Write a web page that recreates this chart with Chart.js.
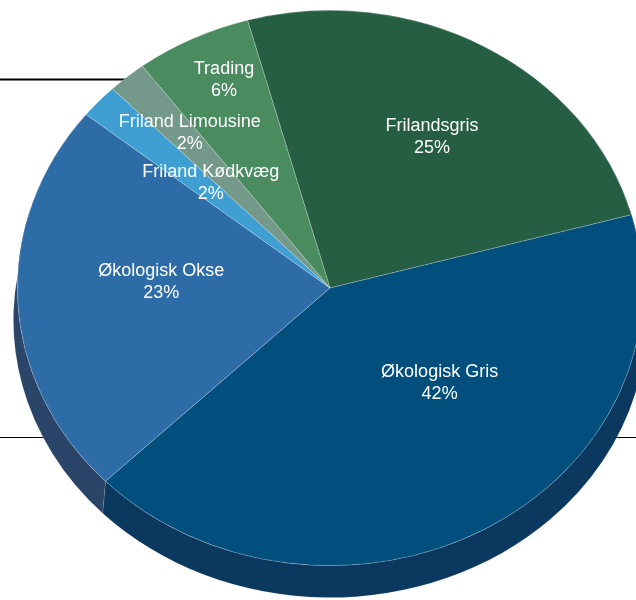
<!DOCTYPE html>
<html>
<head>
<meta charset="utf-8">
<script src="https://cdn.jsdelivr.net/npm/chart.js@4.4.1/dist/chart.umd.min.js"></script>
<style>
  html, body { margin: 0; padding: 0; background: #fff; width: 636px; height: 600px; overflow: hidden; }
  #wrap { position: absolute; left: 0; top: -25px; width: 660px; height: 626px; }
</style>
</head>
<body>
<div id="wrap"><canvas id="pie" width="660" height="626"></canvas></div>
<script>
const categories = ["Frilandsgris", "Økologisk Gris", "Økologisk Okse", "Friland Kødkvæg", "Friland Limousine", "Trading"];
const shares = [25, 42, 23, 2, 2, 6];

const topColors = ["#255e42", "#024e7c", "#2e6ca7", "#3f9fd3", "#74998a", "#4a8b60"];
const sideColors = ["#183f2c", "#0b385f", "#2a4568", "#2a6a8e", "#4e665c", "#315c40"];

// where each label sits: fraction of radius, and a small angle nudge (degrees)
const labelPlace = [
  { f: 0.634, da: 1.3 },
  { f: 0.49, da: -16 },
  { f: 0.54, da: 5 },
  { f: 0.537, da: 2.4 },
  { f: 0.716, da: 1.7 },
  { f: 0.821, da: 1.7 }
];

const TILT = 0.888;   // vertical squash of the top face
const DEPTH = 32;     // thickness of the pie edge
const FLARE = 4;      // bottom rim slightly wider (perspective)
const SHIFT = 25;     // canvas sits 25px above the page

const tiltPlugin = {
  id: "tilt",
  beforeDraw(chart) {
    const ctx = chart.ctx;
    ctx.save();
    ctx.strokeStyle = "#000";
    ctx.lineWidth = 2;
    ctx.beginPath();
    ctx.moveTo(0, 79.5 + SHIFT);
    ctx.lineTo(330, 79.5 + SHIFT);
    ctx.stroke();
    ctx.lineWidth = 1;
    ctx.beginPath();
    ctx.moveTo(0, 437.5 + SHIFT);
    ctx.lineTo(chart.width, 437.5 + SHIFT);
    ctx.stroke();
    ctx.restore();
  },
  beforeDatasetsDraw(chart) {
    const ctx = chart.ctx;
    const arcs = chart.getDatasetMeta(0).data;
    const { x: cx, y: cy, outerRadius: r } = arcs[0];

    // side wall of the front half
    arcs.forEach((a, i) => {
      const s = Math.max(a.startAngle, -0.3);
      const e = Math.min(a.endAngle, Math.PI + 0.3);
      if (e <= s) return;
      ctx.beginPath();
      ctx.ellipse(cx, cy, r, r * TILT, 0, s, e);
      ctx.ellipse(cx, cy + DEPTH, r + FLARE, r * TILT, 0, e, s, true);
      ctx.closePath();
      ctx.fillStyle = sideColors[i];
      ctx.fill();
      ctx.strokeStyle = "rgba(255,255,255,0.18)";
      ctx.lineWidth = 0.6;
      ctx.stroke();
    });

    ctx.save();
    ctx.translate(0, cy);
    ctx.scale(1, TILT);
    ctx.translate(0, -cy);
  },
  afterDatasetsDraw(chart) {
    const ctx = chart.ctx;
    ctx.restore();

    const arcs = chart.getDatasetMeta(0).data;
    ctx.save();
    ctx.fillStyle = "#fff";
    ctx.font = '18px "Liberation Sans", Arial, sans-serif';
    ctx.textAlign = "center";
    ctx.textBaseline = "middle";
    arcs.forEach((a, i) => {
      const mid = (a.startAngle + a.endAngle) / 2 + labelPlace[i].da * Math.PI / 180;
      const d = a.outerRadius * labelPlace[i].f;
      const x = a.x + d * Math.cos(mid);
      const y = a.y + d * TILT * Math.sin(mid);
      ctx.fillText(categories[i], x, y - 11);
      ctx.fillText(shares[i] + "%", x, y + 11);
    });
    ctx.restore();
  }
};

new Chart(document.getElementById("pie"), {
  type: "pie",
  data: {
    labels: categories,
    datasets: [{
      data: shares,
      backgroundColor: topColors,
      borderColor: "rgba(255,255,255,0.3)",
      borderWidth: 0.8
    }]
  },
  options: {
    responsive: false,
    animation: false,
    events: [],
    rotation: -15.3,
    layout: { padding: 0 },
    plugins: {
      legend: { display: false },
      tooltip: { enabled: false }
    }
  },
  plugins: [tiltPlugin]
});
</script>
</body>
</html>
